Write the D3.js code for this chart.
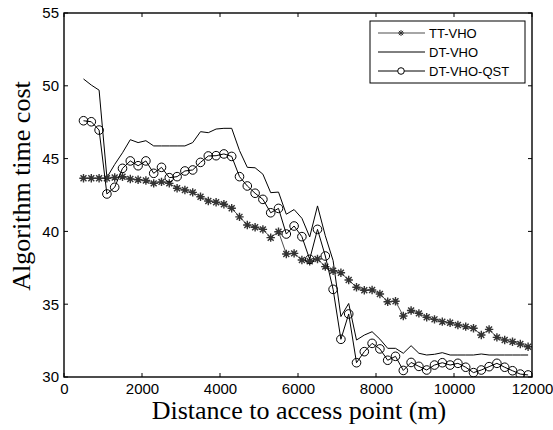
<!DOCTYPE html>
<html><head><meta charset="utf-8">
<script src="https://cdn.jsdelivr.net/npm/d3@7"></script>
<style>body{margin:0;background:#fff}svg{display:block}</style>
</head><body><svg id="c" width="553" height="430"></svg>
<script>
const distances = d3.range(500, 12000, 200);
const ttVho = [43.65,43.65,43.65,43.65,43.7,43.75,43.6,43.55,43.5,43.3,43.4,43.3,42.96,42.84,42.68,42.38,42.09,42.0,41.86,41.59,
 41.0,40.44,40.28,40.14,39.57,39.98,38.45,38.49,38.04,37.95,38.1,37.58,37.3,37.16,36.66,36.16,35.96,35.98,35.7,35.17,
 35.2,34.19,34.57,34.37,34.1,33.96,33.8,33.73,33.57,33.46,33.35,32.88,33.27,32.72,32.54,32.42,32.27,32.08];
const dtVho = [50.47,50.05,49.7,43.7,44.6,45.4,46.3,46.1,46.23,45.87,45.87,45.87,45.87,45.87,46.1,46.85,46.78,47.03,47.08,47.08,
 45.55,44.4,44.37,43.93,42.66,42.7,41.18,41.5,40.9,39.62,41.75,39.7,38.0,34.15,35.05,32.54,32.88,33.11,32.6,31.97,
 31.97,31.63,32.15,31.63,31.51,31.56,31.67,31.51,31.51,31.51,31.51,31.58,31.51,31.51,31.51,31.51,31.51,31.51];
const dtVhoQst = [47.6,47.53,46.96,42.57,43.03,44.33,44.84,44.51,44.84,43.99,44.4,43.69,43.76,44.15,44.22,44.74,45.18,45.2,45.32,45.15,
 43.76,43.12,42.62,42.2,41.28,41.58,39.82,40.37,39.64,38.08,40.14,38.31,36.02,32.59,34.33,30.98,31.74,32.31,31.93,31.15,
 31.42,30.45,31.0,30.73,30.48,30.82,30.98,30.82,30.94,30.67,30.3,30.48,30.71,30.94,30.67,30.43,30.2,30.14];
const xTicks = [0,2000,4000,6000,8000,10000,12000];
const yTicks = [30,35,40,45,50,55];
const seriesNames = ["TT-VHO","DT-VHO","DT-VHO-QST"];
const xLabel = "Distance to access point (m)";
const yLabel = "Algorithm time cost";

const svg = d3.select("#c");
const L=64,R=532,T=13,B=377;
const x = d3.scaleLinear().domain([0,12000]).range([L,R]);
const y = d3.scaleLinear().domain([30,55]).range([B,T]);
const line = d3.line().x((d,i)=>x(distances[i])).y(d=>y(d));

const starPath = r => {
  const a = r*0.707;
  return `M${-r},0L${r},0M0,${-r}L0,${r}M${-a},${-a}L${a},${a}M${-a},${a}L${a},${-a}`;
};

const g = svg.append("g");
svg.append("clipPath").attr("id","clp").append("rect").attr("x",L).attr("y",T).attr("width",R-L).attr("height",B-T);
const pg = g.append("g").attr("clip-path","url(#clp)");

pg.append("path").datum(dtVho).attr("d",line).attr("fill","none").attr("stroke","#000").attr("stroke-width",1);
pg.append("path").datum(ttVho).attr("d",line).attr("fill","none").attr("stroke","#000").attr("stroke-width",0.7);
pg.selectAll(".st").data(ttVho).enter().append("path").attr("class","st")
  .attr("transform",(d,i)=>`translate(${x(distances[i])},${y(d)})`)
  .attr("d",starPath(4.2)).attr("stroke","#333").attr("stroke-width",1.4).attr("fill","none");
pg.append("path").datum(dtVhoQst).attr("d",line).attr("fill","none").attr("stroke","#000").attr("stroke-width",1);
pg.selectAll(".ci").data(dtVhoQst).enter().append("circle").attr("class","ci")
  .attr("cx",(d,i)=>x(distances[i])).attr("cy",d=>y(d)).attr("r",4.3)
  .attr("fill","none").attr("stroke","#000").attr("stroke-width",1);

const tickFont = "Liberation Sans, Arial, sans-serif";
const ax = d3.axisBottom(x).tickValues(xTicks).tickSize(0).tickPadding(6).tickFormat(d3.format("d"));
const axg = g.append("g").attr("transform",`translate(0,${B})`).call(ax);
axg.select(".domain").remove();
axg.selectAll("text").attr("font-family",tickFont).attr("font-size",15).attr("fill","#000");
const ay = d3.axisLeft(y).tickValues(yTicks).tickSize(0).tickPadding(5);
const ayg = g.append("g").attr("transform",`translate(${L},0)`).call(ay);
ayg.select(".domain").remove();
ayg.selectAll("text").attr("font-family",tickFont).attr("font-size",15).attr("fill","#000");

const tl = 4;
g.selectAll(".xtb").data(xTicks).enter().append("line").attr("x1",d=>x(d)).attr("x2",d=>x(d)).attr("y1",B).attr("y2",B-tl).attr("stroke","#000");
g.selectAll(".xtt").data(xTicks).enter().append("line").attr("x1",d=>x(d)).attr("x2",d=>x(d)).attr("y1",T).attr("y2",T+tl).attr("stroke","#000");
g.selectAll(".ytl").data(yTicks).enter().append("line").attr("y1",d=>y(d)).attr("y2",d=>y(d)).attr("x1",L).attr("x2",L+tl).attr("stroke","#000");
g.selectAll(".ytr").data(yTicks).enter().append("line").attr("y1",d=>y(d)).attr("y2",d=>y(d)).attr("x1",R).attr("x2",R-tl).attr("stroke","#000");
g.append("rect").attr("x",L).attr("y",T).attr("width",R-L).attr("height",B-T).attr("fill","none").attr("stroke","#000").attr("stroke-width",1.4);

g.append("text").attr("x",299).attr("y",419).attr("text-anchor","middle")
  .attr("font-family","Liberation Serif, Times New Roman, serif").attr("font-size",26).text(xLabel);
g.append("text").attr("transform",`translate(30,186) rotate(-90)`).attr("text-anchor","middle")
  .attr("font-family","Liberation Serif, Times New Roman, serif").attr("font-size",26).text(yLabel);

const lg = g.append("g");
lg.append("rect").attr("x",370).attr("y",21).attr("width",155).attr("height",62).attr("fill","#fff").attr("stroke","#000").attr("stroke-width",1);
const rowsY = [33,52,71];
seriesNames.forEach((n,k)=>{
  const yy = rowsY[k];
  lg.append("line").attr("x1",378).attr("x2",425).attr("y1",yy).attr("y2",yy).attr("stroke","#000").attr("stroke-width",k===0?0.7:1);
  if(k===0) lg.append("path").attr("transform",`translate(401,${yy})`).attr("d",starPath(3)).attr("stroke","#333").attr("stroke-width",1).attr("fill","none");
  if(k===2) lg.append("circle").attr("cx",401).attr("cy",yy).attr("r",3.3).attr("fill","#fff").attr("stroke","#000");
  lg.append("text").attr("x",429).attr("y",yy+4.5).attr("font-family",tickFont).attr("font-size",13).text(n);
});
</script></body></html>
